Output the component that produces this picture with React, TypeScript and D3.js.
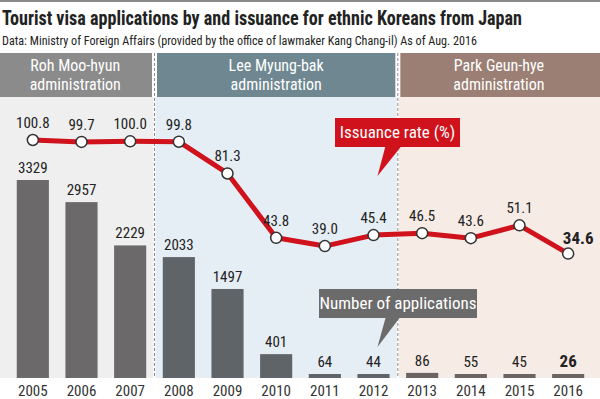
import * as d3 from 'd3';

const years = ['2005', '2006', '2007', '2008', '2009', '2010', '2011', '2012', '2013', '2014', '2015', '2016'];
const applications = [3329, 2957, 2229, 2033, 1497, 401, 64, 44, 86, 55, 45, 26];
const issuanceRate = [100.8, 99.7, 100.0, 99.8, 81.3, 43.8, 39.0, 45.4, 46.5, 43.6, 51.1, 34.6];

const adminNames = [['Roh Moo-hyun', 'administration'], ['Lee Myung-bak', 'administration'], ['Park Geun-hye', 'administration']];
const adminStart = ['2005', '2008', '2013'];
const adminEnd = ['2007', '2012', '2016'];

const W = 600;
const H = 399;
const FONT = '"Liberation Sans Narrow", "Roboto Condensed", "DejaVu Sans Condensed", sans-serif';

const headerFill = ['#8b8b8b', '#6f8791', '#9b7f74'];
const sectionFill = ['#efefef', '#e6eef5', '#f6ebe5'];
const barFill = ['#6b6969', '#5f6468', '#6a6562'];

export default function App() {
  const x = d3.scaleBand<string>().domain(years).range([8.5, 592.5]).paddingInner(0.34).paddingOuter(0.17);
  const step = x.step();
  const cx = (y: string) => (x(y) ?? 0) + x.bandwidth() / 2;
  const yBar = d3.scaleLinear().domain([0, 3329]).range([378, 180]);
  const yRate = d3.scaleLinear().domain([0, 100.8]).range([313, 140]);

  const line = d3.line<number>()
    .x((_, i) => cx(years[i]))
    .y(d => yRate(d));

  const adminIdx = (yr: string) => adminStart.filter(s => +s <= +yr).length - 1;

  // section edges in pixels
  const edges = adminStart.map((s, i) => {
    const left = i === 0 ? 0 : x(s)! - (step - x.bandwidth()) / 2;
    const right = i === adminStart.length - 1 ? W : x(adminEnd[i])! + x.bandwidth() + (step - x.bandwidth()) / 2;
    return [left, right];
  });

  const tipX = cx('2012') + 4;

  return (
    <>
      <style>{'body{margin:0}'}</style>
      <svg width={W} height={H} style={{ display: 'block', fontFamily: FONT }}>
        <rect x={0} y={0} width={W} height={H} fill="#fff" />
        <rect x={0} y={0} width={W} height={2} fill="#8a8a8a" />
        <text x={2} y={25} fontSize={20} fontWeight="bold" fill="#222" textLength={520} lengthAdjust="spacingAndGlyphs">
          Tourist visa applications by and issuance for ethnic Koreans from Japan
        </text>
        <text x={2} y={45} fontSize={13.5} fill="#222" textLength={475} lengthAdjust="spacingAndGlyphs">
          Data: Ministry of Foreign Affairs (provided by the office of lawmaker Kang Chang-il) As of Aug. 2016
        </text>

        {edges.map(([l, r], i) => (
          <g key={i}>
            <rect x={l + (i === 0 ? 0 : 1)} y={97} width={r - l - (i === 0 ? 0 : 1) - (i === 2 ? 0 : 1)} height={281} fill={sectionFill[i]} />
            <rect x={l + (i === 0 ? 0 : 2.5)} y={53} width={r - l - (i === 0 ? 0 : 2.5) - (i === 2 ? 0 : 2.5)} height={44} fill={headerFill[i]} />
            <text x={i === 0 ? (l + r) / 2 - 2 : (l + r) / 2} y={71} textAnchor="middle" fontSize={16} fill="#fff">{adminNames[i][0]}</text>
            <text x={i === 0 ? (l + r) / 2 - 2 : (l + r) / 2} y={90} textAnchor="middle" fontSize={16} fill="#fff">{adminNames[i][1]}</text>
          </g>
        ))}
        {edges.slice(1).map(([l], i) => (
          <line key={i} x1={l} x2={l} y1={53} y2={378} stroke="#8a8a8a" strokeWidth={1} strokeDasharray="3,2" />
        ))}

        {years.map((yr, i) => {
          const top = Math.min(yBar(applications[i]), 374);
          const last = i === years.length - 1;
          return (
            <g key={yr}>
              <rect x={x(yr)} y={top} width={x.bandwidth()} height={378 - top} fill={barFill[adminIdx(yr)]} />
              <text x={cx(yr)} y={top - 7} textAnchor="middle" fontSize={last ? 17 : 15} fontWeight={last ? 'bold' : 'normal'} fill="#222">
                {applications[i]}
              </text>
              <text x={cx(yr)} y={396} textAnchor="middle" fontSize={15} fill="#333">{yr}</text>
            </g>
          );
        })}

        {/* callout: number of applications */}
        <path d={`M${tipX + 8},318 L${tipX + 22},318 L${tipX},347 Z`} fill="#6b6b6b" />
        <rect x={319} y={289} width={158} height={29} fill="#6b6b6b" />
        <text x={398} y={309} textAnchor="middle" fontSize={17} fill="#fff">Number of applications</text>

        {/* callout: issuance rate */}
        <path d={`M${tipX + 8},146 L${tipX + 24},146 L${tipX},176 Z`} fill="#d0121c" />
        <rect x={335} y={118} width={125} height={29} fill="#d0121c" />
        <text x={397.5} y={138} textAnchor="middle" fontSize={17} fill="#fff">Issuance rate (%)</text>

        <path d={line(issuanceRate) ?? ''} fill="none" stroke="#d0121c" strokeWidth={5} strokeLinejoin="round" />
        {years.map((yr, i) => {
          const last = i === years.length - 1;
          return (
            <g key={yr}>
              <circle cx={cx(yr)} cy={yRate(issuanceRate[i])} r={5.5} fill="#fff" stroke="#333" strokeWidth={1.5} />
              <text
                x={last ? cx(yr) + 10 : cx(yr)}
                y={yRate(issuanceRate[i]) - (last ? 10 : 12)}
                textAnchor="middle"
                fontSize={last ? 17 : 15}
                fontWeight={last ? 'bold' : 'normal'}
                fill="#222"
              >
                {issuanceRate[i].toFixed(1)}
              </text>
            </g>
          );
        })}
      </svg>
    </>
  );
}
